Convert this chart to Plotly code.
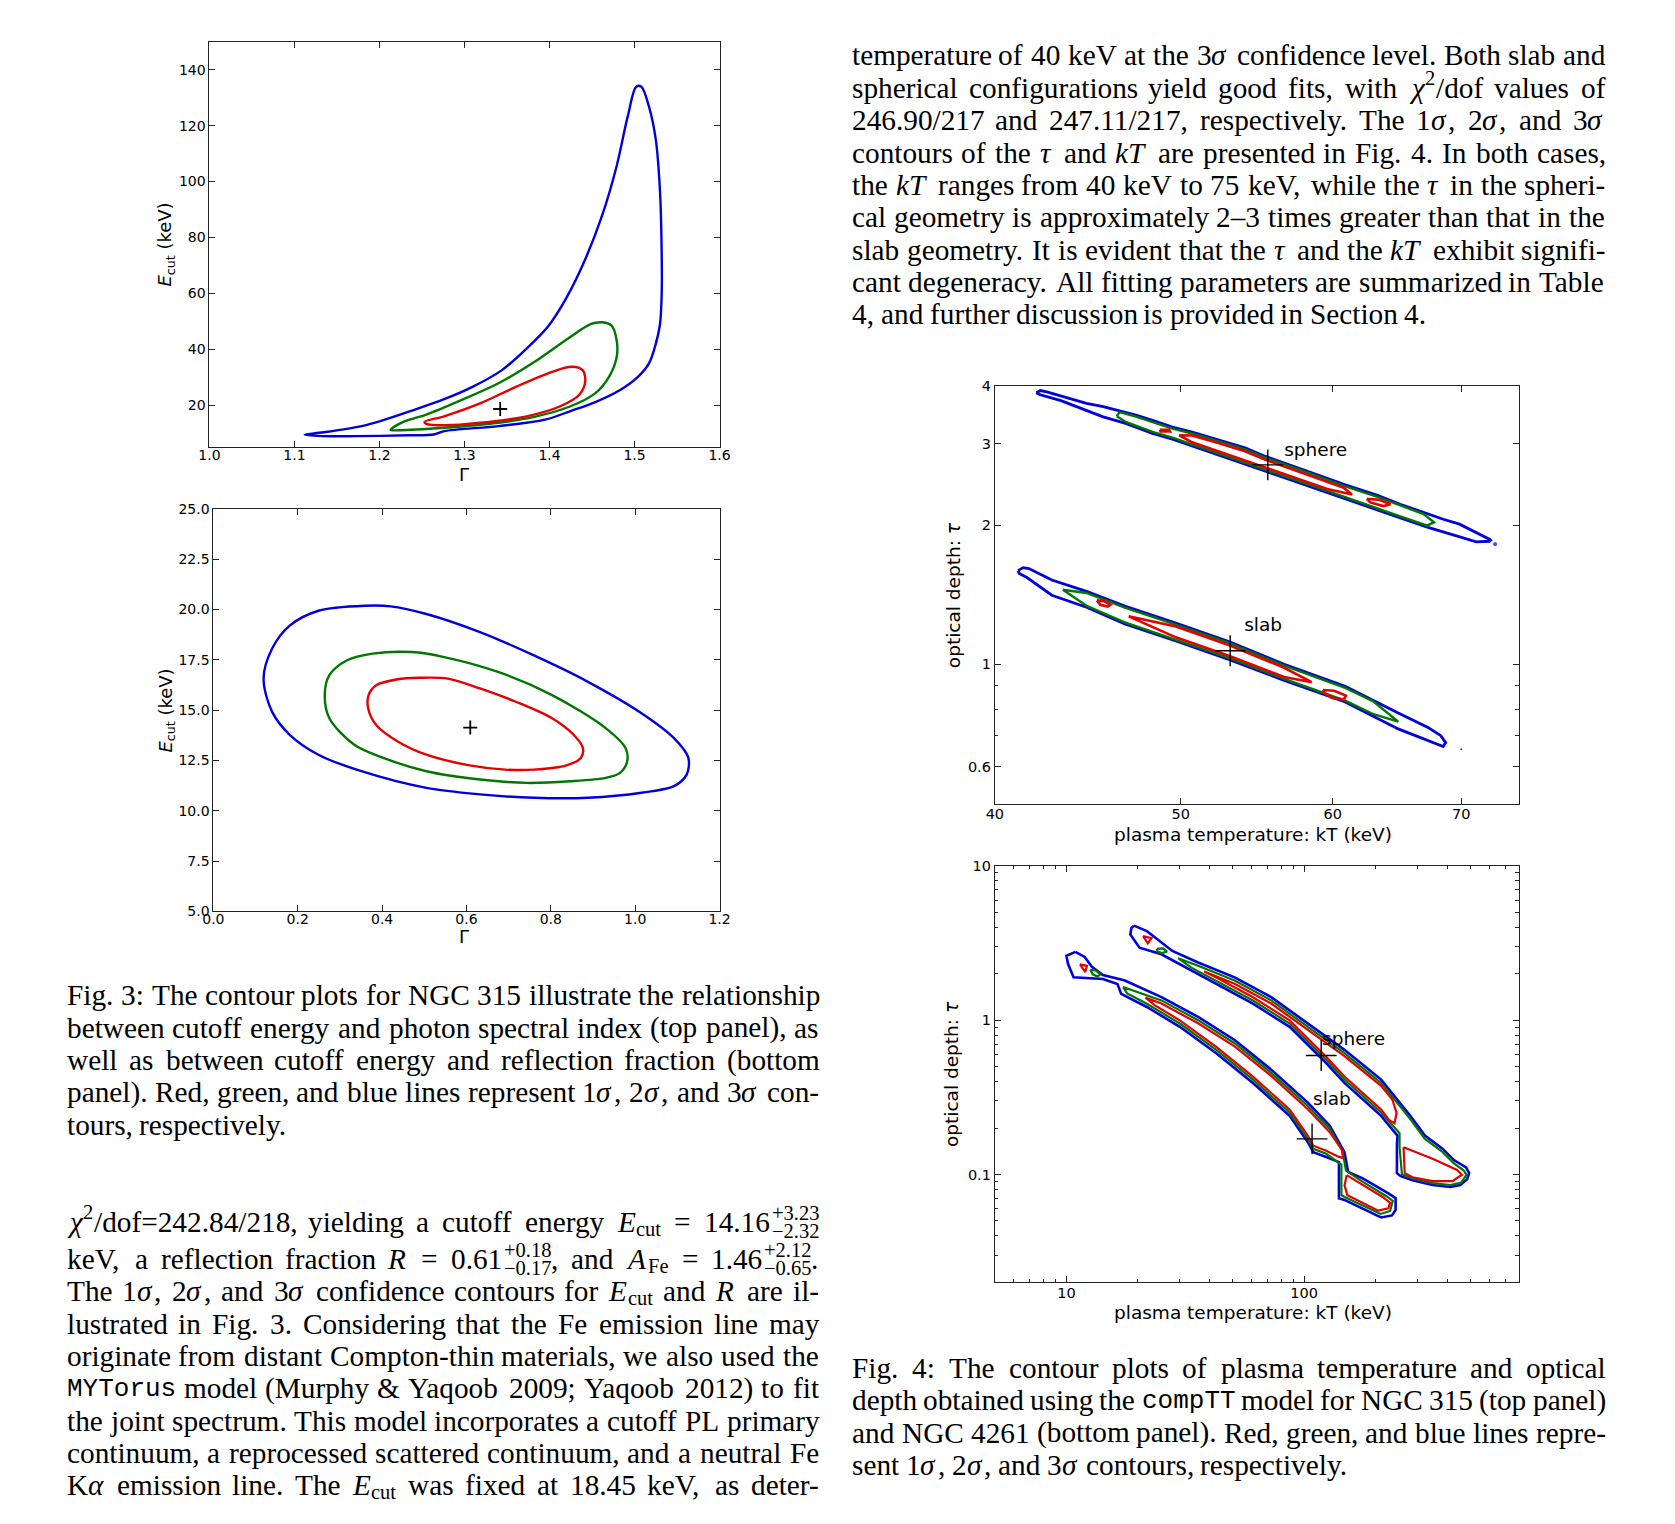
import numpy as np
import plotly.graph_objects as go

W, H = 1675, 1524
OFF = 8                 # default page-body margin; figure sized so the page never overflows
FW, FH = 1655, 1500

# ------------------------------------------------------------------ data
# Fig.3 top: Gamma vs E_cut (keV)
TL_BLUE_X = [1.112,1.137,1.179,1.200,1.238,1.276,1.310,1.344,1.373,1.399,1.420,1.441,1.462,1.479,1.492,1.502,1.508,1.517,1.525,1.530,1.532,1.532,1.530,1.525,1.517,1.504,1.483,1.454,1.424,1.395,1.340,1.276,1.264,1.234,1.171,1.133,1.112]
TL_BLUE_Y = [9.5,10.5,12.6,14.3,18.1,22.2,26.7,32.6,40.3,48.5,58.5,71.5,88.0,105.6,123.3,133.9,133.9,126.8,115.0,96.2,72.6,60.9,49.1,42.0,35.0,30.2,25.5,21.2,17.9,14.9,12.6,10.8,9.6,9.3,9.0,9.0,9.5]
TL_GREEN_X = [1.213,1.228,1.255,1.297,1.340,1.382,1.424,1.449,1.462,1.473,1.479,1.479,1.470,1.454,1.424,1.382,1.340,1.276,1.222,1.213]
TL_GREEN_Y = [11.2,14.1,16.7,22.0,27.9,35.5,44.4,49.1,49.7,48.5,43.2,37.3,30.2,24.4,19.6,15.9,13.8,12.0,11.1,11.2]
TL_RED_X = [1.253,1.276,1.319,1.361,1.403,1.426,1.439,1.442,1.435,1.412,1.373,1.319,1.276,1.255,1.253]
TL_RED_Y = [14.1,16.1,20.8,26.7,32.0,33.8,32.6,28.5,23.8,19.6,16.1,13.8,12.9,13.4,14.1]
TL_BEST = (1.342, 18.7)
TL_XTICKS = [1.0,1.1,1.2,1.3,1.4,1.5,1.6]
TL_YTICKS = [20,40,60,80,100,120,140]

# Fig.3 bottom: reflection fraction (labelled Gamma) vs E_cut (keV)
BL_BLUE_X = [0.119,0.139,0.181,0.249,0.360,0.420,0.505,0.632,0.760,0.888,1.015,1.092,1.126,1.122,1.092,1.015,0.888,0.760,0.632,0.505,0.351,0.249,0.181,0.139,0.119]
BL_BLUE_Y = [16.56,18.04,19.19,19.93,20.18,20.15,19.77,18.87,17.71,16.40,14.84,13.60,12.62,11.79,11.22,10.89,10.64,10.64,10.81,11.13,11.96,12.78,13.77,14.92,16.56]
BL_GREEN_X = [0.264,0.275,0.317,0.377,0.471,0.547,0.675,0.803,0.930,0.977,0.981,0.964,0.930,0.845,0.743,0.632,0.505,0.403,0.334,0.275,0.264]
BL_GREEN_Y = [15.74,16.73,17.47,17.80,17.88,17.63,16.89,15.74,14.10,13.11,12.45,11.88,11.63,11.46,11.38,11.55,11.96,12.62,13.27,14.59,15.74]
BL_RED_X = [0.367,0.368,0.386,0.437,0.488,0.556,0.632,0.717,0.803,0.854,0.876,0.871,0.837,0.760,0.692,0.607,0.505,0.437,0.386,0.367]
BL_RED_Y = [15.08,15.74,16.23,16.53,16.60,16.56,16.07,15.41,14.59,13.77,13.11,12.62,12.25,12.04,12.04,12.25,12.78,13.44,14.26,15.08]
BL_BEST = (0.609, 14.13)
BL_XTICKS = [0.0,0.2,0.4,0.6,0.8,1.0,1.2]
BL_YTICKS = [5.0,7.5,10.0,12.5,15.0,17.5,20.0,22.5,25.0]

# Fig.4 top: NGC 315 compTT, kT (keV) vs tau
TR_SPH_BLUE_X = [42.04,42.24,42.57,43.6,44.65,45.55,46.45,47.38,48.33,49.5,50.68,52.35,54.0,55.3,56.6,58.45,60.8,63.3,65.05,66.9,68.5,69.85,71.27,72.4,72.5,72.4,71.27,69.85,67.2,64.5,62.0,59.6,57.3,55.3,54.0,52.35,50.68,49.5,48.33,46.8,45.55,44.5,43.3,42.24,42.04]
TR_SPH_BLUE_Y = [3.87,3.91,3.885,3.77,3.667,3.61,3.54,3.46,3.37,3.26,3.18,3.06,2.94,2.82,2.73,2.60,2.45,2.32,2.22,2.13,2.06,2.01,1.93,1.865,1.855,1.846,1.84,1.886,1.98,2.10,2.22,2.355,2.49,2.62,2.71,2.83,2.97,3.07,3.16,3.32,3.43,3.56,3.72,3.83,3.87]
TR_SPH_GREEN_X = [46.3,46.45,47.38,48.33,49.5,50.68,52.35,54.0,55.3,56.6,58.45,60.8,63.3,65.05,66.9,67.75,67.2,64.5,62.0,59.6,57.3,55.3,54.0,52.35,50.68,49.5,48.33,46.8,46.3]
TR_SPH_GREEN_Y = [3.44,3.514,3.435,3.345,3.236,3.157,3.038,2.918,2.799,2.710,2.581,2.432,2.303,2.204,2.114,2.03,1.995,2.116,2.236,2.372,2.508,2.639,2.730,2.851,2.992,3.093,3.183,3.345,3.44]
TR_SPH_RED_X = [49.9,50.68,52.35,54.0,55.3,56.6,58.45,60.8,61.4,59.6,57.3,55.3,54.0,52.35,50.68,49.9]
TR_SPH_RED_Y = [3.13,3.126,3.008,2.890,2.772,2.683,2.556,2.408,2.33,2.396,2.533,2.666,2.757,2.879,3.022,3.13]
TR_SPH_RED2_X = [48.75,49.3,49.35,48.8,48.75]
TR_SPH_RED2_Y = [3.215,3.215,3.19,3.19,3.215]
TR_SPH_RED3_X = [62.5,63.45,64.3,63.75,62.75,62.5]
TR_SPH_RED3_Y = [2.28,2.27,2.22,2.20,2.24,2.28]
TR_SLAB_BLUE_X = [41.13,41.38,41.67,42.83,44.65,46.75,49.7,53.0,56.6,60.9,64.9,67.3,68.3,68.7,68.5,67.3,64.9,60.9,56.6,53.0,49.7,46.75,44.65,42.83,41.57,41.19,41.13]
TR_SLAB_BLUE_Y = [1.595,1.619,1.611,1.522,1.438,1.336,1.228,1.119,1.0,0.896,0.785,0.729,0.701,0.677,0.664,0.684,0.725,0.829,0.923,1.024,1.124,1.223,1.329,1.411,1.541,1.572,1.595]
TR_SLAB_GREEN_X = [43.4,44.65,46.75,49.7,53.0,56.6,60.9,63.0,64.9,63.0,60.9,56.6,53.0,49.7,46.75,44.65,43.4]
TR_SLAB_GREEN_Y = [1.45,1.427,1.326,1.219,1.111,0.993,0.889,0.831,0.752,0.780,0.835,0.930,1.032,1.132,1.232,1.339,1.45]
TR_SLAB_RED_X = [46.97,49.7,53.0,56.6,58.5,56.6,53.0,49.7,46.97]
TR_SLAB_RED_Y = [1.27,1.207,1.100,0.983,0.915,0.939,1.042,1.144,1.27]
TR_SLAB_RED2_X = [59.3,60.1,60.95,60.8,59.95,59.4,59.3]
TR_SLAB_RED2_Y = [0.880,0.877,0.856,0.840,0.846,0.866,0.880]
TR_SLAB_RED3_X = [45.2,45.6,45.95,45.8,45.4,45.2]
TR_SLAB_RED3_Y = [1.375,1.370,1.345,1.333,1.345,1.375]
TR_DOTS_X = [72.9, 70.0]
TR_DOTS_Y = [1.82, 0.655]
TR_BEST_X = [55.5, 53.05]
TR_BEST_Y = [2.70, 1.07]
TR_LABELS = ["sphere", "slab"]
TR_LABEL_X = [56.6, 53.95]
TR_LABEL_Y = [2.89, 1.21]
TR_XTICKS = [40, 50, 60, 70]
TR_YTICKS = [0.6, 1, 2, 3, 4]
TR_YMINOR = [0.7, 0.8, 0.9]

# Fig.4 bottom: NGC 4261 compTT, kT (keV) vs tau
BR_SLAB_BLUE_X = [10.91,11.93,12.80,14.24,17.62,25.1,35.8,51.0,72.7,103.7,128.2,147.8,153.2,176.4,226.2,242.6,242.6,234.2,210.8,147.8,140.1,140.1,123.8,109.3,103.7,86.9,60.9,42.7,30.0,21.8,17.0,16.4,14.24,10.72,10.16,10.0,10.91]
BR_SLAB_BLUE_Y = [2.77,2.57,2.22,1.96,1.805,1.41,1.05,0.744,0.478,0.292,0.207,0.1396,0.1039,0.0943,0.0755,0.0702,0.059,0.0543,0.0527,0.0684,0.0702,0.1204,0.1297,0.1396,0.1618,0.24,0.392,0.611,0.906,1.217,1.48,1.717,1.848,1.895,2.31,2.61,2.77]
BR_SLAB_GREEN_X = [17.3,25.1,35.8,51.0,72.7,103.7,128.2,145,150,176,222,236,230,210,148,143.5,143.5,123.8,109.3,103.7,86.9,60.9,42.7,30.0,21.8,18.0,17.3]
BR_SLAB_GREEN_Y = [1.64,1.343,1.0,0.709,0.455,0.278,0.197,0.142,0.106,0.0898,0.0723,0.0675,0.058,0.0555,0.0715,0.0735,0.116,0.1362,0.1466,0.1699,0.252,0.412,0.642,0.951,1.278,1.49,1.64]
BR_SLAB_RED_X = [21.5,25.1,35.8,51.0,72.7,103.7,128.2,144,146,140,123.8,109.3,103.7,86.9,60.9,42.7,30.0,23.5,21.5]
BR_SLAB_RED_Y = [1.40,1.282,0.955,0.676,0.435,0.265,0.188,0.145,0.128,0.13,0.1427,0.1536,0.178,0.264,0.431,0.672,0.997,1.25,1.40]
BR_SLAB_RED2_X = [151,175,214,230,226,205,152,148,151]
BR_SLAB_RED2_Y = [0.099,0.086,0.0715,0.0655,0.0603,0.0583,0.0733,0.085,0.099]
BR_SLAB_GREEN2_X = [12.6,13.3,13.9,13.5,12.9,12.6]
BR_SLAB_GREEN2_Y = [2.12,2.1,1.98,1.92,1.98,2.12]
BR_SLAB_RED3_X = [11.4,12.2,12.0,11.4]
BR_SLAB_RED3_Y = [2.3,2.25,2.05,2.3]
BR_SPH_BLUE_X = [19.24,21.8,24.2,27.9,35.8,51.0,72.7,103.7,147.8,210.8,260.5,279.6,322.2,382,428,480,494.5,485,453.7,412,347,286,255,245.7,245.7,247,210.8,147.8,123.8,86.9,60.9,42.7,33.4,30.0,25.1,20.3,18.57,18.77,19.24]
BR_SPH_BLUE_Y = [4.10,3.775,3.336,2.81,2.364,1.895,1.41,0.951,0.642,0.412,0.278,0.24,0.1786,0.147,0.1235,0.1113,0.1019,0.0933,0.0854,0.0829,0.0854,0.0919,0.0975,0.1019,0.154,0.1786,0.24,0.392,0.527,0.906,1.278,1.717,2.092,2.31,2.673,2.951,3.59,3.96,4.10]
BR_SPH_GREEN_X = [29.5,35.8,51.0,72.7,103.7,147.8,210.8,260.5,279.6,322.2,382,428,470,482,458,412,347,286,258,252,252,210.8,147.8,123.8,86.9,60.9,42.7,33.4,29.5]
BR_SPH_GREEN_Y = [2.52,2.251,1.805,1.343,0.906,0.611,0.392,0.265,0.2286,0.170,0.140,0.1176,0.106,0.0995,0.0885,0.0855,0.088,0.0945,0.100,0.15,0.185,0.252,0.412,0.553,0.951,1.342,1.803,2.197,2.52]
BR_SPH_RED_X = [38,51.0,72.7,103.7,147.8,210.8,235,245,240,228,210.8,147.8,123.8,86.9,60.9,42.7,38]
BR_SPH_RED_Y = [2.07,1.723,1.282,0.865,0.584,0.375,0.306,0.25,0.215,0.225,0.264,0.431,0.58,0.997,1.406,1.889,2.07]
BR_SPH_RED2_X = [262,347,440,461,421,347,286,265,262]
BR_SPH_RED2_Y = [0.150,0.1265,0.107,0.0996,0.0906,0.0906,0.096,0.1019,0.150]
BR_SPH_GREEN2_X = [24.0,25.5,26.5,25.2,24.2,24.0]
BR_SPH_GREEN2_Y = [2.9,2.92,2.78,2.72,2.78,2.9]
BR_SPH_RED3_X = [21.0,22.8,22.0,21.0]
BR_SPH_RED3_Y = [3.5,3.4,3.15,3.5]
BR_BEST_X = [118, 108]
BR_BEST_Y = [0.59, 0.170]
BR_LABELS = ["sphere", "slab"]
BR_LABEL_X = [119, 109]
BR_LABEL_Y = [0.745, 0.30]
BR_XTICKS = [10, 100]
BR_XMINOR = [5,6,7,8,9,20,30,40,50,60,70,80,90,200,300,400,500,600,700,800]
BR_YTICKS = [0.1, 1, 10]
BR_YMINOR = [0.02,0.03,0.04,0.05,0.06,0.07,0.08,0.09,0.2,0.3,0.4,0.5,0.6,0.7,0.8,0.9,2,3,4,5,6,7,8,9]

# page text (markup: *italic*, ^{sup}, _{sub}, [sup|sub] stacked, `mono`)
RIGHT_TOP_LINES = [
    "temperature of 40 keV at the 3*σ* confidence level. Both slab and",
    "spherical configurations yield good fits, with *χ*^{2}/dof values of",
    "246.90/217 and 247.11/217, respectively. The 1*σ*, 2*σ*, and 3*σ*",
    "contours of the *τ* and *kT* are presented in Fig. 4. In both cases,",
    "the *kT* ranges from 40 keV to 75 keV, while the *τ* in the spheri-",
    "cal geometry is approximately 2–3 times greater than that in the",
    "slab geometry. It is evident that the *τ* and the *kT* exhibit signifi-",
    "cant degeneracy. All fitting parameters are summarized in Table",
    "4, and further discussion is provided in Section 4.",
]
FIG3_LINES = [
    "Fig. 3: The contour plots for NGC 315 illustrate the relationship",
    "between cutoff energy and photon spectral index (top panel), as",
    "well as between cutoff energy and reflection fraction (bottom",
    "panel). Red, green, and blue lines represent 1*σ*, 2*σ*, and 3*σ* con-",
    "tours, respectively.",
]
LEFT_BOTTOM_LINES = [
    "*χ*^{2}/dof=242.84/218, yielding a cutoff energy *E*_{cut} = 14.16[+3.23|−2.32]",
    "keV, a reflection fraction *R* = 0.61[+0.18|−0.17], and *A*_{Fe} = 1.46[+2.12|−0.65].",
    "The 1*σ*, 2*σ*, and 3*σ* confidence contours for *E*_{cut} and *R* are il-",
    "lustrated in Fig. 3. Considering that the Fe emission line may",
    "originate from distant Compton-thin materials, we also used the",
    "`MYTorus` model (Murphy & Yaqoob 2009; Yaqoob 2012) to fit",
    "the joint spectrum. This model incorporates a cutoff PL primary",
    "continuum, a reprocessed scattered continuum, and a neutral Fe",
    "K*α* emission line. The *E*_{cut} was fixed at 18.45 keV, as deter-",
]
FIG4_LINES = [
    "Fig. 4: The contour plots of plasma temperature and optical",
    "depth obtained using the `compTT` model for NGC 315 (top panel)",
    "and NGC 4261 (bottom panel). Red, green, and blue lines repre-",
    "sent 1*σ*, 2*σ*, and 3*σ* contours, respectively.",
]

# ------------------------------------------------------------------ layout helpers
BLUE, GREEN, RED = "#0000dd", "#007800", "#e60000"
AXC = "#222222"
SANS = "DejaVu Sans"
SERIF = "Liberation Serif"
MONO = "Liberation Mono"
TXT = 29.3
MONO_SIZE = 26.0
STACK_PAD = 3.0

def px_dom_x(a, b):
    return [(a - OFF) / FW, (b - OFF) / FW]

def px_dom_y(top, bottom):
    return [1 - (bottom - OFF) / FH, 1 - (top - OFF) / FH]

fig = go.Figure()

def add_line(xs, ys, color, width, ax, spline=False):
    fig.add_trace(go.Scatter(
        x=xs, y=ys, mode="lines", xaxis="x" + ax, yaxis="y" + ax,
        line=dict(color=color, width=width, shape="spline" if spline else "linear",
                  smoothing=0.9),
        hoverinfo="skip", showlegend=False))

def add_best(xs, ys, ax, size, lw=1.5):
    fig.add_trace(go.Scatter(
        x=xs, y=ys, mode="markers", xaxis="x" + ax, yaxis="y" + ax,
        marker=dict(symbol="cross-thin", size=size, line=dict(color="black", width=lw)),
        hoverinfo="skip", showlegend=False))

def add_labels(xs, ys, texts, ax):
    fig.add_trace(go.Scatter(
        x=xs, y=ys, text=texts, mode="text", textposition="middle right",
        xaxis="x" + ax, yaxis="y" + ax,
        textfont=dict(family=SANS, size=18.5, color="black"),
        hoverinfo="skip", showlegend=False))

# panel 1
add_line(TL_BLUE_X, TL_BLUE_Y, BLUE, 2.4, "", True)
add_line(TL_GREEN_X, TL_GREEN_Y, GREEN, 2.4, "", True)
add_line(TL_RED_X, TL_RED_Y, RED, 2.4, "", True)
add_best([TL_BEST[0]], [TL_BEST[1]], "", 10, 1.8)
# panel 2
add_line(BL_BLUE_X, BL_BLUE_Y, BLUE, 2.4, "2", True)
add_line(BL_GREEN_X, BL_GREEN_Y, GREEN, 2.4, "2", True)
add_line(BL_RED_X, BL_RED_Y, RED, 2.4, "2", True)
add_best([BL_BEST[0]], [BL_BEST[1]], "2", 10, 1.8)
# panel 3
for xs, ys in [(TR_SPH_BLUE_X, TR_SPH_BLUE_Y), (TR_SLAB_BLUE_X, TR_SLAB_BLUE_Y)]:
    add_line(xs, ys, BLUE, 2.8, "3")
for xs, ys in [(TR_SPH_GREEN_X, TR_SPH_GREEN_Y), (TR_SLAB_GREEN_X, TR_SLAB_GREEN_Y)]:
    add_line(xs, ys, GREEN, 2.4, "3")
for xs, ys in [(TR_SPH_RED_X, TR_SPH_RED_Y), (TR_SPH_RED2_X, TR_SPH_RED2_Y), (TR_SPH_RED3_X, TR_SPH_RED3_Y),
               (TR_SLAB_RED_X, TR_SLAB_RED_Y), (TR_SLAB_RED2_X, TR_SLAB_RED2_Y), (TR_SLAB_RED3_X, TR_SLAB_RED3_Y)]:
    add_line(xs, ys, RED, 2.6, "3")
fig.add_trace(go.Scatter(x=TR_DOTS_X, y=TR_DOTS_Y, mode="markers", xaxis="x3", yaxis="y3",
                         marker=dict(color=BLUE, size=[5, 3]), hoverinfo="skip", showlegend=False))
add_best(TR_BEST_X, TR_BEST_Y, "3", 22, 1.4)
add_labels(TR_LABEL_X, TR_LABEL_Y, TR_LABELS, "3")
# panel 4
for xs, ys in [(BR_SLAB_BLUE_X, BR_SLAB_BLUE_Y), (BR_SPH_BLUE_X, BR_SPH_BLUE_Y)]:
    add_line(xs, ys, BLUE, 2.6, "4")
for xs, ys in [(BR_SLAB_GREEN_X, BR_SLAB_GREEN_Y), (BR_SLAB_GREEN2_X, BR_SLAB_GREEN2_Y),
               (BR_SPH_GREEN_X, BR_SPH_GREEN_Y), (BR_SPH_GREEN2_X, BR_SPH_GREEN2_Y)]:
    add_line(xs, ys, GREEN, 2.2, "4")
for xs, ys in [(BR_SLAB_RED_X, BR_SLAB_RED_Y), (BR_SLAB_RED2_X, BR_SLAB_RED2_Y), (BR_SLAB_RED3_X, BR_SLAB_RED3_Y),
               (BR_SPH_RED_X, BR_SPH_RED_Y), (BR_SPH_RED2_X, BR_SPH_RED2_Y), (BR_SPH_RED3_X, BR_SPH_RED3_Y)]:
    add_line(xs, ys, RED, 2.2, "4")
add_best(BR_BEST_X, BR_BEST_Y, "4", 22, 1.4)
add_labels(BR_LABEL_X, BR_LABEL_Y, BR_LABELS, "4")

def axis(dom, rng, anchor, tickvals, ticktext=None, fmt=None, size=14, log=False, minor=None,
         standoff=0):
    d = dict(domain=dom, range=rng, anchor=anchor, showline=True, linecolor=AXC, linewidth=1,
             mirror="allticks", ticks="inside", ticklen=6, tickwidth=1, tickcolor=AXC,
             showgrid=False, zeroline=False, tickvals=tickvals, ticklabelstandoff=standoff,
             tickfont=dict(family=SANS, size=size, color="black"))
    if ticktext is not None:
        d["ticktext"] = ticktext
    if fmt:
        d["tickformat"] = fmt
    if log:
        d["type"] = "log"
    if minor is not None:
        d["minor"] = dict(tickvals=minor, ticks="inside", ticklen=3.5, tickwidth=1, tickcolor=AXC)
    return d

annotations = []

def ann(X, Y, text, size, family, xanchor="left", yanchor="middle", angle=0):
    annotations.append(dict(x=(X - OFF) / FW, y=1 - (Y - OFF) / FH, xref="paper", yref="paper",
                            text=text, showarrow=False, xanchor=xanchor, yanchor=yanchor,
                            textangle=angle, borderpad=0,
                            font=dict(size=size, family=family, color="black")))

# axis titles
ann(157, 239, "<i>E</i><sub>cut</sub> (keV)", 18, SANS, "center", "middle", -90)
ann(459, 471, "Γ", 18, SANS, "center", "middle")
ann(157, 710, "<i>E</i><sub>cut</sub> (keV)", 18, SANS, "center", "middle", -90)
ann(459, 938, "Γ", 18, SANS, "center", "middle")
ann(955, 593, "optical depth: <i>τ</i>", 18.5, SANS, "center", "middle", -90)
ann(1259, 835, "plasma temperature: kT (keV)", 18.5, SANS, "center", "middle")
ann(953, 1077, "optical depth: <i>τ</i>", 18.5, SANS, "center", "middle", -90)
ann(1259, 1318, "plasma temperature: kT (keV)", 18.5, SANS, "center", "middle")

# ------------------------------------------------------------------ justified body text
CW = {' ': 250, 'a': 444, 'b': 500, 'c': 444, 'd': 500, 'e': 444, 'f': 333, 'g': 500, 'h': 500,
      'i': 278, 'j': 278, 'k': 500, 'l': 278, 'm': 778, 'n': 500, 'o': 500, 'p': 500, 'q': 500,
      'r': 333, 's': 389, 't': 278, 'u': 500, 'v': 500, 'w': 722, 'x': 500, 'y': 500, 'z': 444,
      'A': 722, 'B': 667, 'C': 667, 'D': 722, 'E': 611, 'F': 556, 'G': 722, 'H': 722, 'I': 333,
      'J': 389, 'K': 722, 'L': 611, 'M': 889, 'N': 722, 'O': 722, 'P': 556, 'Q': 722, 'R': 667,
      'S': 556, 'T': 611, 'U': 722, 'V': 722, 'W': 944, 'X': 722, 'Y': 722, 'Z': 611,
      '.': 250, ',': 250, ':': 278, ';': 278, '-': 333, '–': 500, '−': 564, '+': 564, '=': 564,
      '(': 333, ')': 333, '/': 278, '&': 778, 'σ': 540, 'τ': 440, 'χ': 520, 'α': 540}
for dch in "0123456789":
    CW[dch] = 500

def tw(text, size, mono=False):
    if mono:
        return 0.6 * MONO_SIZE * len(text)
    return sum(CW.get(c, 500) for c in text) / 1000.0 * size

def parse_word(w):
    segs = []
    st = {"it": False, "mono": False, "buf": ""}
    def flush():
        if st["buf"]:
            segs.append(dict(t=st["buf"], it=st["it"], mono=st["mono"], pos="b"))
            st["buf"] = ""
    i = 0
    while i < len(w):
        c = w[i]
        if c == "*":
            flush(); st["it"] = not st["it"]; i += 1; continue
        if c == "`":
            flush(); st["mono"] = not st["mono"]; i += 1; continue
        if c in "^_" and i + 1 < len(w) and w[i + 1] == "{":
            flush(); j = w.index("}", i)
            segs.append(dict(t=w[i + 2:j], pos="sup" if c == "^" else "sub"))
            i = j + 1; continue
        if c == "[":
            flush(); j = w.index("]", i)
            a, b = w[i + 1:j].split("|")
            segs.append(dict(t=a, t2=b, pos="stack"))
            i = j + 1; continue
        st["buf"] += c; i += 1
    flush()
    return segs

def seg_w(s, size):
    if s["pos"] == "b":
        extra = 0.06 * size if s["it"] else 0.0
        return tw(s["t"], size, s["mono"]) + extra
    if s["pos"] in ("sup", "sub"):
        return tw(s["t"], size * 0.7)
    return max(tw(s["t"], size * 0.7), tw(s["t2"], size * 0.7)) + STACK_PAD

def esc(t):
    return t.replace("&", "&amp;")

def render_line(line, x0, x1, yc, size, justify):
    words = [parse_word(w) for w in line.split(" ")]
    widths = [sum(seg_w(s, size) for s in segs) for segs in words]
    if justify and len(words) > 1:
        gap = (x1 - x0 - sum(widths)) / (len(words) - 1)
    else:
        gap = 0.25 * size
    x = x0
    for segs, wd in zip(words, widths):
        cx = x
        for s in segs:
            if s["pos"] == "b":
                t = esc(s["t"])
                if s["it"]:
                    t = "<i>" + t + "</i>"
                if s["mono"]:
                    ann(cx, yc + 1, t, MONO_SIZE, MONO)
                else:
                    ann(cx, yc, t, size, SERIF)
            elif s["pos"] == "sup":
                ann(cx, yc - 0.33 * size, esc(s["t"]), size * 0.7, SERIF)
            elif s["pos"] == "sub":
                ann(cx, yc + 0.24 * size, esc(s["t"]), size * 0.7, SERIF)
            else:
                ann(cx + STACK_PAD, yc - 0.30 * size, esc(s["t"]), size * 0.7, SERIF)
                ann(cx + STACK_PAD, yc + 0.32 * size, esc(s["t2"]), size * 0.7, SERIF)
            cx += seg_w(s, size)
        x += wd + gap

def render_par(lines, x0, x1, ys, size, last_natural=True):
    for k, (ln, y) in enumerate(zip(lines, ys)):
        just = not (last_natural and k == len(lines) - 1)
        render_line(ln, x0, x1, y, size, just)

LX0, LX1 = 55.3, 817.2
RX0, RX1 = 851.2, 1614.1
render_par(RIGHT_TOP_LINES, RX0, RX1, [47.9 + 32.7 * k for k in range(9)], TXT)
render_par(FIG3_LINES, LX0, LX1, [998.0 + 32.7 * k for k in range(5)], TXT)
render_par(LEFT_BOTTOM_LINES, LX0, LX1, [1226.8, 1264.0] + [1297.0 + 32.7 * k for k in range(7)], TXT,
           last_natural=False)
render_par(FIG4_LINES, RX0, RX1, [1374.7 + 32.7 * k for k in range(4)], TXT)

fig.update_layout(
    width=FW, height=FH, margin=dict(l=0, r=0, t=0, b=0),
    paper_bgcolor="white", plot_bgcolor="white", showlegend=False,
    xaxis=axis(px_dom_x(201, 718), [1.0, 1.6], "y", TL_XTICKS, fmt=".1f", standoff=-5),
    yaxis=axis(px_dom_y(34, 444), [5, 150], "x", TL_YTICKS),
    xaxis2=axis(px_dom_x(205, 718), [0.0, 1.2], "y2", BL_XTICKS, fmt=".1f", standoff=-5),
    yaxis2=axis(px_dom_y(506, 913), [5, 25], "x2", BL_YTICKS, fmt=".1f"),
    xaxis3=axis(px_dom_x(997, 1528), [np.log10(40), np.log10(75)], "y3", TR_XTICKS,
                [str(v) for v in TR_XTICKS], size=14.5, log=True, standoff=-3),
    yaxis3=axis(px_dom_y(382, 804), [np.log10(0.5), np.log10(4)], "x3", TR_YTICKS,
                [str(v) for v in TR_YTICKS], size=14.5, log=True, minor=TR_YMINOR),
    xaxis4=axis(px_dom_x(997, 1528), [np.log10(5), np.log10(800)], "y4", BR_XTICKS,
                [str(v) for v in BR_XTICKS], size=14.5, log=True, minor=BR_XMINOR, standoff=-3),
    yaxis4=axis(px_dom_y(867, 1288), [np.log10(0.02), np.log10(10)], "x4", BR_YTICKS,
                [str(v) for v in BR_YTICKS], size=14.5, log=True, minor=BR_YMINOR),
    annotations=annotations,
)

fig.write_html("out.html", config={"displayModeBar": False})
